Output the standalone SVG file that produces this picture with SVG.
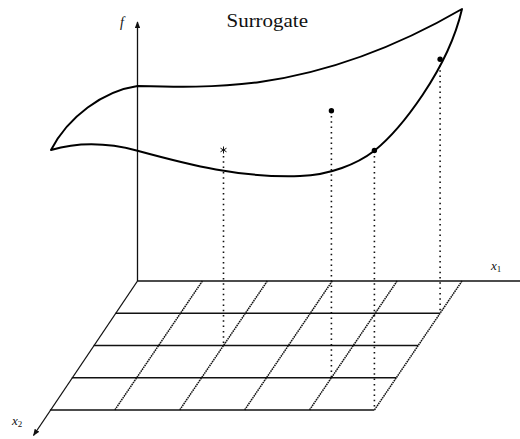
<svg xmlns="http://www.w3.org/2000/svg" width="520" height="439" viewBox="0 0 520 439">
<defs>
<marker id="arr" viewBox="0 0 10 8" refX="9" refY="4" markerWidth="7" markerHeight="5.6" orient="auto" markerUnits="userSpaceOnUse">
<path d="M0,0 L10,4 L0,8 Z" fill="#111"/>
</marker>
</defs>
<style>
.ax{stroke:#111;stroke-width:1.3;fill:none}
.grid{stroke:#111;stroke-width:1.4;fill:none}
.slant{stroke:#111;stroke-width:1.5;fill:none;stroke-dasharray:1.6 0.7}
.vdot{stroke:#111;stroke-width:1.6;fill:none;stroke-dasharray:1.5 3.8}
.surf{stroke:#000;stroke-width:2;fill:none;stroke-linejoin:round}
.lbl{font-family:"Liberation Serif","DejaVu Serif",serif;fill:#111}
.it{font-style:italic}
.pt{fill:#000}
</style>
<rect width="520" height="439" fill="#fff"/>
<g id="connectors">
<line class="grid" x1="115.6" y1="313.25" x2="440.1" y2="313.25"/>
<line class="grid" x1="93.7" y1="345.5" x2="418.2" y2="345.5"/>
<line class="grid" x1="71.8" y1="377.75" x2="396.3" y2="377.75"/>
<line class="grid" x1="49.9" y1="410" x2="374.4" y2="410"/>
<line class="slant" x1="202.4" y1="281" x2="114.8" y2="410"/>
<line class="slant" x1="267.3" y1="281" x2="179.7" y2="410"/>
<line class="slant" x1="332.2" y1="281" x2="244.6" y2="410"/>
<line class="slant" x1="397.1" y1="281" x2="309.5" y2="410"/>
<line class="slant" x1="462" y1="281" x2="374.4" y2="410"/>
<line class="vdot" x1="223.5" y1="156" x2="223.5" y2="345.5"/>
<line class="vdot" x1="331.4" y1="116" x2="331.4" y2="377.75"/>
<line class="vdot" x1="374.4" y1="156" x2="374.4" y2="410"/>
<line class="vdot" x1="440.1" y1="65" x2="440.1" y2="313.25"/>
</g>
<g id="axes">
<line class="ax" x1="137.5" y1="281" x2="137.5" y2="22" marker-end="url(#arr)"/>
<line class="ax" x1="137.5" y1="281" x2="520" y2="281"/>
<line class="ax" x1="137.5" y1="281" x2="33.5" y2="435.5" marker-end="url(#arr)"/>
</g>
<g id="surface">
<path class="surf" d="M51,150 C68,117 103,91 137.5,86 C175,87 215,88 260,82 C330,72 400,45 462,9 C448,70 400,130 374.4,150.7 C357,164 330,175 300,176 C240,178 190,165 137.5,150.7 C105,142 75,143 51,150 Z"/>
</g>
<g id="points">
<circle class="pt" cx="331.4" cy="110.7" r="2.7"/>
<circle class="pt" cx="374.4" cy="150.5" r="2.7"/>
<circle class="pt" cx="440.1" cy="59.3" r="2.7"/>
<path d="M223.5,146.5 V153.5 M220.5,148.2 L226.5,151.8 M220.5,151.8 L226.5,148.2" stroke="#111" stroke-width="1" fill="none"/>
</g>
<g id="labels">
<text class="lbl" x="226.5" y="26.5" font-size="19" textLength="81.5" lengthAdjust="spacingAndGlyphs">Surrogate</text>
<text class="lbl it" x="120" y="26.5" font-size="14">f</text>
<text class="lbl it" x="491" y="270" font-size="13">x<tspan font-size="9" dy="2" font-style="normal">1</tspan></text>
<text class="lbl it" x="12" y="425" font-size="13">x<tspan font-size="9" dy="2" font-style="normal">2</tspan></text>
</g>
</svg>
